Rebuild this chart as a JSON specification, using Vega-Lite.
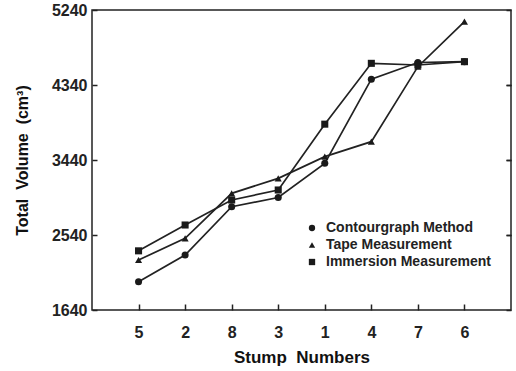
{
  "$schema": "https://vega.github.io/schema/vega-lite/v6.json",
  "autosize": {"type": "none"},
  "width": 419,
  "height": 300,
  "padding": {"left": 92, "top": 10, "right": 5, "bottom": 61},
  "background": "white",
  "config": {
    "view": {"stroke": "#222", "strokeWidth": 1.5},
    "font": "Liberation Sans",
    "axis": {"labelFont": "Liberation Sans", "titleFont": "Liberation Sans", "labelFontWeight": "bold", "titleFontWeight": "bold", "labelColor": "#222", "titleColor": "#111", "tickColor": "#222", "domain": false, "grid": false}
  },
  "data": {"values": [
    {"stump": "5", "series": "Contourgraph Method", "v": 1980},
    {"stump": "2", "series": "Contourgraph Method", "v": 2300},
    {"stump": "8", "series": "Contourgraph Method", "v": 2880},
    {"stump": "3", "series": "Contourgraph Method", "v": 2990},
    {"stump": "1", "series": "Contourgraph Method", "v": 3400},
    {"stump": "4", "series": "Contourgraph Method", "v": 4410},
    {"stump": "7", "series": "Contourgraph Method", "v": 4610},
    {"stump": "6", "series": "Contourgraph Method", "v": 4620},
    {"stump": "5", "series": "Tape Measurement", "v": 2240},
    {"stump": "2", "series": "Tape Measurement", "v": 2500},
    {"stump": "8", "series": "Tape Measurement", "v": 3040},
    {"stump": "3", "series": "Tape Measurement", "v": 3220},
    {"stump": "1", "series": "Tape Measurement", "v": 3480},
    {"stump": "4", "series": "Tape Measurement", "v": 3660},
    {"stump": "7", "series": "Tape Measurement", "v": 4560},
    {"stump": "6", "series": "Tape Measurement", "v": 5100},
    {"stump": "5", "series": "Immersion Measurement", "v": 2350},
    {"stump": "2", "series": "Immersion Measurement", "v": 2660},
    {"stump": "8", "series": "Immersion Measurement", "v": 2960},
    {"stump": "3", "series": "Immersion Measurement", "v": 3080},
    {"stump": "1", "series": "Immersion Measurement", "v": 3870},
    {"stump": "4", "series": "Immersion Measurement", "v": 4600},
    {"stump": "7", "series": "Immersion Measurement", "v": 4580},
    {"stump": "6", "series": "Immersion Measurement", "v": 4620}
  ]},
  "encoding": {
    "x": {"field": "stump", "type": "ordinal", "sort": ["5", "2", "8", "3", "1", "4", "7", "6"],
      "scale": {"type": "point", "padding": 1},
      "axis": {"title": "Stump\u00a0 Numbers", "labelAngle": 0, "labelFontSize": 16, "titleFontSize": 17, "tickSize": -6, "tickWidth": 1.5, "labelPadding": 20, "titlePadding": 9}},
    "y": {"field": "v", "type": "quantitative",
      "scale": {"domain": [1640, 5240], "nice": false, "zero": false},
      "axis": {"title": "Total\u00a0 Volume\u00a0 (cm³)", "format": "d", "values": [1640, 2540, 3440, 4340, 5240], "labelFontSize": 16, "titleFontSize": 16, "tickSize": -5, "tickWidth": 1.5, "labelPadding": 10, "titlePadding": 21}}
  },
  "layer": [
    {
      "mark": {"type": "line", "color": "#222", "strokeWidth": 1.7},
      "encoding": {"detail": {"field": "series"}}
    },
    {
      "mark": {"type": "point", "filled": true, "color": "#1a1a1a", "opacity": 1, "size": 50},
      "encoding": {
        "shape": {"field": "series", "type": "nominal",
          "scale": {"domain": ["Contourgraph Method", "Tape Measurement", "Immersion Measurement"], "range": ["circle", "triangle-up", "square"]},
          "legend": {"title": null, "orient": "none", "legendX": 213, "legendY": 211, "labelFont": "Liberation Sans", "labelFontWeight": "bold", "labelFontSize": 14, "labelColor": "#222", "labelLimit": 300, "symbolSize": 40, "symbolFillColor": "#1a1a1a", "symbolStrokeColor": "#1a1a1a", "labelOffset": 7, "rowPadding": 3, "padding": 0}}
      }
    },
    {
      "mark": {"type": "point", "opacity": 0},
      "encoding": {
        "y": {"field": "v", "type": "quantitative",
          "axis": {"orient": "right", "title": null, "labels": false, "values": [2540, 3440, 4340], "tickSize": -5, "tickWidth": 1.5}}
      }
    }
  ],
  "resolve": {"axis": {"y": "independent"}}
}
